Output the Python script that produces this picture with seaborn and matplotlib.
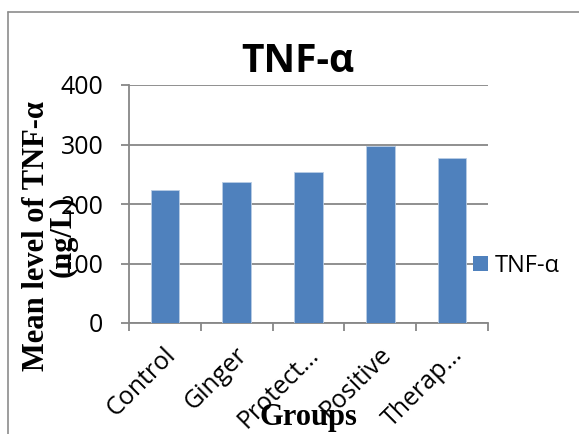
import numpy as np
import matplotlib
matplotlib.use("Agg")
import matplotlib.pyplot as plt
import matplotlib.transforms as mtransforms
from matplotlib.lines import Line2D
from matplotlib.patches import Patch
import pandas as pd
import seaborn as sns

groups = ["Control", "Ginger", "Protect…", "Positive", "Therap…"]
tnf_values = [224, 237, 253, 297, 278]
y_ticks = [0, 100, 200, 300, 400]

BAR_COLOR = "#4F81BD"
GRID_COLOR = "#878787"

sns.set_theme(style="white")
plt.rcParams["font.family"] = ["Open Sans", "DejaVu Sans"]
plt.rcParams.update({"text.color": "black", "xtick.color": "black",
                     "ytick.color": "black", "axes.labelcolor": "black"})

df = pd.DataFrame({"group": groups, "value": tnf_values})

fig = plt.figure(figsize=(5.79, 4.34), dpi=100)
ax = fig.add_axes([129 / 579, 1 - 323 / 434, (488 - 129) / 579, (323 - 85) / 434])

sns.barplot(data=df, x="group", y="value", color=BAR_COLOR, width=0.4,
            saturation=1, edgecolor="#b9cde5", linewidth=0.6, ax=ax, zorder=3)

ax.set_xlim(-0.5, len(groups) - 0.5)
ax.set_ylim(0, 400)
ax.set_yticks(y_ticks)
ax.yaxis.grid(True, color=GRID_COLOR, linewidth=1.3)
ax.set_axisbelow(True)
for side in ["top", "right"]:
    ax.spines[side].set_visible(False)
for side in ["left", "bottom"]:
    ax.spines[side].set_color(GRID_COLOR)
    ax.spines[side].set_linewidth(1.3)

ax.tick_params(axis="y", which="major", length=5.5, width=1.3, color=GRID_COLOR,
               pad=13, labelsize=18, left=True, labelcolor="black")
ax.set_xticks(np.arange(-0.5, len(groups), 1.0), minor=True)
ax.tick_params(axis="x", which="minor", length=5.5, width=1.3, color=GRID_COLOR, bottom=True)
ax.tick_params(axis="x", which="major", length=0, pad=20, labelsize=18, labelcolor="black")
# nudge rotated labels a little to the right, like the original
shift = mtransforms.ScaledTranslation(5 / 72, 0, fig.dpi_scale_trans)
for lbl in ax.get_xticklabels():
    lbl.set_rotation(45)
    lbl.set_ha("right")
    lbl.set_va("center")
    lbl.set_rotation_mode("anchor")
    lbl.set_transform(lbl.get_transform() + shift)
ax.set_xlabel("")
ax.set_ylabel("")

# title and axis titles
fig.text(298 / 579, 1 - 62 / 434, "TNF-α", fontsize=28, fontweight="bold",
         ha="center", va="center", color="black")
fig.text(50 / 579, 1 - 236 / 434, "Mean level of TNF-α\n(ng/L)",
         family=["Liberation Serif", "DejaVu Serif"], fontsize=22,
         fontweight="bold", rotation=90, ha="center", va="center",
         multialignment="center", linespacing=0.9, color="black")
fig.text(308 / 579, 9 / 434, "Groups", family=["Liberation Serif", "DejaVu Serif"],
         fontsize=22, fontweight="bold", ha="center", va="baseline", color="black")

# legend
handles = [Patch(facecolor=BAR_COLOR, edgecolor="none", label="TNF-α")]
fig.legend(handles=handles, loc="center left", bbox_to_anchor=(473 / 579, 1 - 266 / 434),
           frameon=False, fontsize=17, borderpad=0, borderaxespad=0,
           handlelength=0.62, handleheight=0.62, handletextpad=0.3)

# chart area border (left and top)
fig.add_artist(Line2D([8 / 579, 8 / 579], [0, 1 - 12 / 434], color="#8c8c8c",
                      linewidth=1.2, transform=fig.transFigure))
fig.add_artist(Line2D([8 / 579, 1], [1 - 12 / 434, 1 - 12 / 434], color="#8c8c8c",
                      linewidth=1.2, transform=fig.transFigure))

plt.savefig("out.png", dpi=100)
plt.close()
